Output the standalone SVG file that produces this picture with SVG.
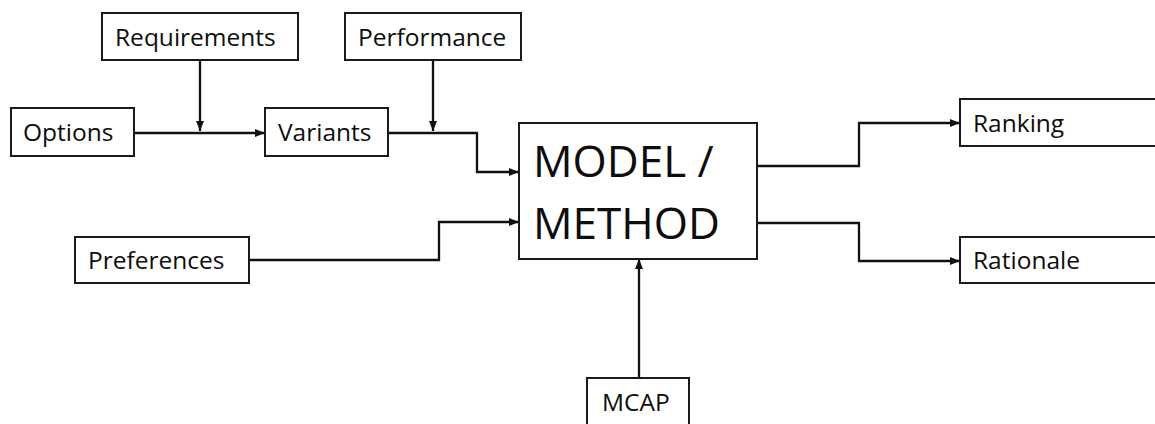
<svg xmlns="http://www.w3.org/2000/svg" width="1155" height="424" viewBox="0 0 1155 424">
  <style>
    .box { fill: #ffffff; stroke: #1a1a1a; stroke-width: 2; }
    .lbl { font-family: "Open Sans", "Liberation Sans", sans-serif; font-size: 24.5px; fill: #0d0d0d; }
    .big { font-family: "Open Sans", "Liberation Sans", sans-serif; font-size: 44px; fill: #0d0d0d; }
    .wire { fill: none; stroke: #111111; stroke-width: 2.3; }
  </style>
  <defs>
    <marker id="arrow" markerUnits="userSpaceOnUse" markerWidth="10" markerHeight="10" viewBox="0 0 10 10" refX="10" refY="5" orient="auto">
      <path d="M0,1 L10,5 L0,9 Z" fill="#111111"/>
    </marker>
  </defs>
  <rect width="1155" height="424" fill="#ffffff"/>

  <g id="connectors">
    <path class="wire" d="M134,133 H265" marker-end="url(#arrow)"/>
    <path class="wire" d="M200,60 V131" marker-end="url(#arrow)"/>
    <path class="wire" d="M388,133 H477 V172 H519" marker-end="url(#arrow)"/>
    <path class="wire" d="M433,60 V131" marker-end="url(#arrow)"/>
    <path class="wire" d="M249,260 H439 V222 H519" marker-end="url(#arrow)"/>
    <path class="wire" d="M639,378 V259" marker-end="url(#arrow)"/>
    <path class="wire" d="M757,166 H859 V123 H960" marker-end="url(#arrow)"/>
    <path class="wire" d="M757,223 H859 V261 H960" marker-end="url(#arrow)"/>
  </g>

  <g id="requirements">
    <rect class="box" x="102" y="13" width="196" height="47"/>
    <text class="lbl" x="115" y="46">Requirements</text>
  </g>
  <g id="performance">
    <rect class="box" x="345" y="13" width="176" height="47"/>
    <text class="lbl" x="358" y="46">Performance</text>
  </g>
  <g id="options">
    <rect class="box" x="11" y="108" width="123" height="48"/>
    <text class="lbl" x="23" y="141">Options</text>
  </g>
  <g id="variants">
    <rect class="box" x="265" y="108" width="123" height="48"/>
    <text class="lbl" x="278" y="141">Variants</text>
  </g>
  <g id="preferences">
    <rect class="box" x="75" y="237" width="174" height="46"/>
    <text class="lbl" x="88" y="269">Preferences</text>
  </g>
  <g id="model">
    <rect class="box" x="519" y="123" width="238" height="136"/>
    <text class="big" x="533" y="177">MODEL /</text>
    <text class="big" x="533" y="239">METHOD</text>
  </g>
  <g id="ranking">
    <rect class="box" x="960" y="99" width="210" height="47"/>
    <text class="lbl" x="973" y="132">Ranking</text>
  </g>
  <g id="rationale">
    <rect class="box" x="960" y="237" width="210" height="46"/>
    <text class="lbl" x="973" y="269">Rationale</text>
  </g>
  <g id="mcap">
    <rect class="box" x="587" y="378" width="102" height="60"/>
    <text class="lbl" x="602" y="411">MCAP</text>
  </g>
</svg>
